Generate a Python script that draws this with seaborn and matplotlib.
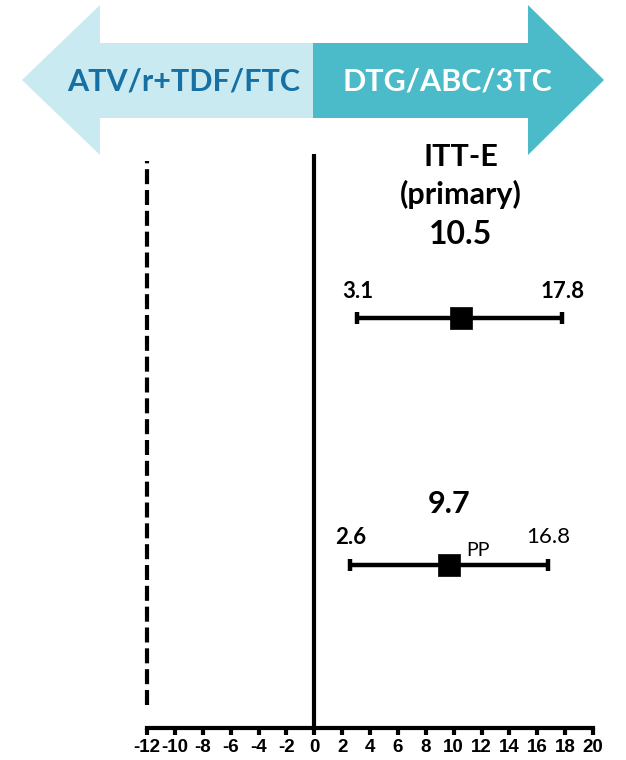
import matplotlib
matplotlib.use("Agg")
import matplotlib.pyplot as plt
from matplotlib.patches import Polygon
import seaborn as sns
import pandas as pd

# ---- data ----
analyses = ["ITT-E", "PP"]
estimates = [10.5, 9.7]
lower_ci = [3.1, 2.6]
upper_ci = [17.8, 16.8]
margin = -12
xticks = list(range(-12, 21, 2))
left_label = "ATV/r+TDF/FTC"
right_label = "DTG/ABC/3TC"

sns.set_theme(style="white")
plt.rcParams['font.family'] = ['Lato', 'DejaVu Sans']
plt.rcParams['text.color'] = 'black'
plt.rcParams['xtick.color'] = 'black'
plt.rcParams['xtick.labelcolor'] = 'black'

W, H = 626, 760
fig = plt.figure(figsize=(W / 100, H / 100), dpi=100)

def fx(px):
    return px / W

def fy(py):
    return 1 - py / H

# axes: x -12 at px 147, 20 at px 593 ; bottom spine at py 728, top at py 150
ax = fig.add_axes([fx(147), fy(728), (593 - 147) / W, (728 - 150) / H])
ax.set_xlim(-12, 20)
ax.set_ylim(0, 1)

def ay(py):
    return (728 - py) / (728 - 150)

ypos = [ay(318), ay(565)]
df = pd.DataFrame({"analysis": analyses, "est": estimates, "lo": lower_ci,
                   "hi": upper_ci, "y": ypos})

# CI lines
ax.errorbar(df["est"], df["y"],
            xerr=[df["est"] - df["lo"], df["hi"] - df["est"]],
            fmt="none", ecolor="black", elinewidth=3.2, capsize=4, capthick=3.2,
            zorder=2)
sns.scatterplot(data=df, x="est", y="y", marker="s", s=250, color="black",
                edgecolor="black", linewidth=0.5, ax=ax, zorder=3, legend=False)

# reference lines
ax.plot([0, 0], [0, ay(154)], color="black", lw=3, solid_capstyle="butt", clip_on=False)
ax.plot([margin, margin], [ay(705), ay(161)], color="black", lw=3,
        linestyle=(0, (3.6, 1.4)), clip_on=False)

# spines / ticks
for s in ["top", "right", "left"]:
    ax.spines[s].set_visible(False)
ax.spines["bottom"].set_linewidth(3)
ax.spines["bottom"].set_color("black")
ax.set_yticks([])
ax.set_xticks(xticks)
ax.set_xticklabels([str(t) for t in xticks], fontsize=13.5, fontweight="bold",
                   family=["Liberation Sans", "DejaVu Sans"], color="black")
ax.tick_params(axis="x", direction="out", length=5, width=3, color="black",
               pad=3, bottom=True)
ax.set_xlabel("")
ax.set_ylabel("")

# annotations
ax.text(10.5, ay(157), "ITT-E", ha="center", va="center",
        fontsize=22, fontweight="bold", color="black")
ax.text(10.5, ay(194), "(primary)", ha="center", va="center",
        fontsize=22, fontweight="bold", color="black")
ax.text(10.5, ay(234), f"{estimates[0]}", ha="center", va="center",
        fontsize=23, fontweight="bold", color="black")
ax.text(3.1, ay(291), f"{lower_ci[0]}", ha="center", va="center",
        fontsize=16, fontweight="bold", color="black")
ax.text(17.8, ay(291), f"{upper_ci[0]}", ha="center", va="center",
        fontsize=16, fontweight="bold", color="black")
ax.text(9.7, ay(504), f"{estimates[1]}", ha="center", va="center",
        fontsize=22, fontweight="bold", color="black")
ax.text(2.6, ay(537), f"{lower_ci[1]}", ha="center", va="center",
        fontsize=16, fontweight="bold", color="black")
ax.text(16.8, ay(537), f"{upper_ci[1]}", ha="center", va="center",
        fontsize=16, color="black")
ax.text(10.9, ay(551), "PP", ha="left", va="center", fontsize=14, color="black")

# header double arrow
light = "#C9EAF0"
dark = "#4BBBC9"
mid_x = 313
left_poly = [(22, 80), (100, 5), (100, 43), (mid_x, 43), (mid_x, 118),
             (100, 118), (100, 155)]
right_poly = [(mid_x, 43), (528, 43), (528, 5), (604, 80), (528, 155),
              (528, 118), (mid_x, 118)]
for pts, col in [(left_poly, light), (right_poly, dark)]:
    fig.patches.append(Polygon([(fx(x), fy(y)) for x, y in pts], closed=True,
                               facecolor=col, edgecolor="none",
                               transform=fig.transFigure, zorder=0))
fig.text(fx(184), fy(82), left_label, ha="center", va="center", fontsize=22,
         fontweight="bold", color="#1670A3")
fig.text(fx(447), fy(82), right_label, ha="center", va="center", fontsize=22,
         fontweight="bold", color="white")

fig.savefig("out.png", dpi=100)
